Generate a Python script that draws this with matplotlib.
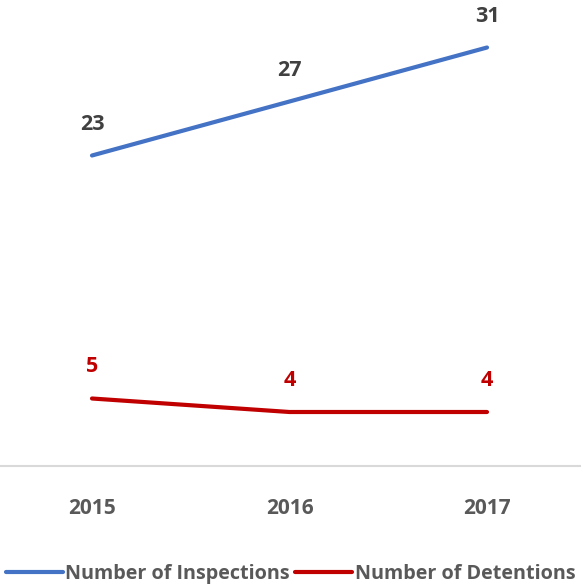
import matplotlib
matplotlib.use('Agg')
import matplotlib.pyplot as plt

# --- DATA ---
years = ["2015", "2016", "2017"]
inspections = [23, 27, 31]
detentions = [5, 4, 4]

BLUE = '#4472C4'
RED = '#C00000'

plt.rcParams['font.family'] = ['Open Sans', 'DejaVu Sans']

fig = plt.figure(figsize=(5.81, 5.86), dpi=100)
ax = fig.add_axes([-6.75 / 581, 120 / 586, 592.5 / 581, 472.5 / 586])

x = list(range(len(years)))
ax.plot(x, inspections, color=BLUE, linewidth=3, solid_capstyle='round',
        label="Number of Inspections")
ax.plot(x, detentions, color=RED, linewidth=3, solid_capstyle='round',
        label="Number of Detentions")

# data labels
for xi, v in zip(x, inspections):
    ax.annotate(str(v), (xi, v), xytext=(0, 22.5), textcoords='offset points',
                ha='center', va='center', fontsize=15.5, fontweight='bold', color='#404040')
for xi, v in zip(x, detentions):
    ax.annotate(str(v), (xi, v), xytext=(0, 23), textcoords='offset points',
                ha='center', va='center', fontsize=15.5, fontweight='bold', color=RED)

ax.set_xlim(-0.5, 2.5)
ax.set_ylim(0, 35)
ax.set_xticks(x)
ax.set_xticklabels(years, fontsize=15, fontweight='bold', color='#595959')
ax.set_yticks([])
ax.tick_params(axis='x', length=0, pad=23)

for s in ['top', 'left', 'right']:
    ax.spines[s].set_visible(False)
ax.spines['bottom'].set_color('#D9D9D9')
ax.spines['bottom'].set_linewidth(1.5)

leg = fig.legend(loc='center', bbox_to_anchor=(0.5, 12 / 586), ncol=2, frameon=False,
                 prop={'size': 14.2, 'weight': 'bold'}, handlelength=2.9,
                 handletextpad=0.12, columnspacing=0.25, borderaxespad=0)
for t in leg.get_texts():
    t.set_color('#595959')

fig.savefig('out.png', dpi=100)
